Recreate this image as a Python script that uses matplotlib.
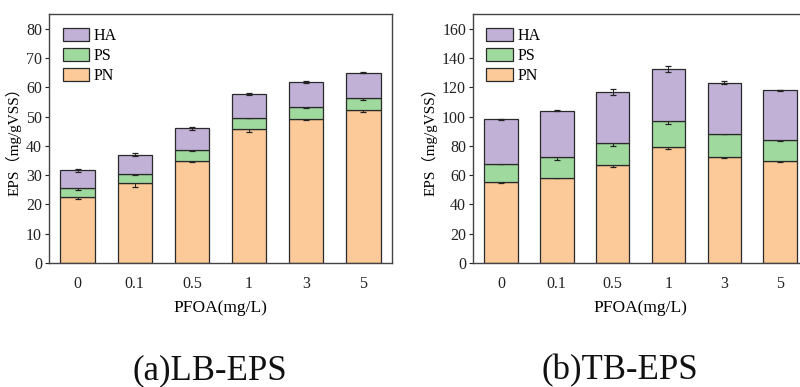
import matplotlib
matplotlib.use("Agg")
import matplotlib.pyplot as plt
import numpy as np

categories = ["0", "0.1", "0.5", "1", "3", "5"]

# (a) LB-EPS
lb_pn = [22.6, 27.2, 34.9, 45.6, 49.1, 52.3]
lb_ps = [2.9, 3.2, 3.7, 4.0, 4.0, 4.1]
lb_ha = [6.2, 6.6, 7.4, 8.0, 8.7, 8.6]
lb_pn_err = [0.9, 1.2, 0.4, 0.8, 0.3, 0.9]
lb_ps_err = [0.6, 0.5, 0.3, 0.2, 0.3, 0.6]
lb_ha_err = [0.5, 0.4, 0.5, 0.3, 0.3, 0.2]

# (b) TB-EPS
tb_pn = [55.3, 58.3, 66.7, 79.2, 72.4, 69.4]
tb_ps = [12.5, 13.8, 15.0, 17.5, 15.9, 14.4]
tb_ha = [30.3, 31.9, 34.8, 35.8, 34.8, 34.1]
tb_pn_err = [0.8, 0.5, 1.0, 1.5, 0.5, 0.6]
tb_ps_err = [0.4, 1.5, 2.0, 1.5, 0.5, 0.4]
tb_ha_err = [0.4, 0.4, 2.0, 1.8, 1.0, 0.5]

c_pn = "#FCC998"
c_ps = "#9FD99E"
c_ha = "#C2B1D7"

serif = ["Liberation Serif", "Noto Sans CJK SC", "DejaVu Sans"]
plt.rcParams["font.family"] = serif
plt.rcParams["axes.unicode_minus"] = False

fig = plt.figure(figsize=(8, 3.87), dpi=100)

def panel(rect, pn, ps, ha, pe, se, he, ymax, yticks):
    ax = fig.add_axes(rect)
    x = np.arange(len(categories))
    pn = np.array(pn); ps = np.array(ps); ha = np.array(ha)
    w = 0.6
    kw = dict(width=w, edgecolor="#2a2a2a", linewidth=0.9)
    ebk = dict(fmt="none", ecolor="#222222", elinewidth=0.7, capsize=2.0, capthick=0.9)
    b1 = ax.bar(x, pn, color=c_pn, zorder=2, **kw)
    ax.errorbar(x, pn, yerr=pe, zorder=2.1, **ebk)
    b2 = ax.bar(x, ps, bottom=pn, color=c_ps, zorder=3, **kw)
    ax.errorbar(x, pn + ps, yerr=se, zorder=3.1, **ebk)
    b3 = ax.bar(x, ha, bottom=pn + ps, color=c_ha, zorder=4, **kw)
    ax.errorbar(x, pn + ps + ha, yerr=he, zorder=4.1, **ebk)
    ax.set_xlim(-0.5, 5.5)
    ax.set_ylim(0, ymax)
    ax.set_yticks(yticks)
    ax.set_xticks(x)
    ax.set_xticklabels(categories)
    ax.tick_params(axis="y", direction="out", length=3, width=0.8, labelsize=11.5,
                   colors="#222222", pad=2)
    ax.tick_params(axis="x", length=0, labelsize=11.5, pad=9, colors="#222222")
    for s in ax.spines.values():
        s.set_color("#444444")
        s.set_linewidth(1.0)
    ax.set_xlabel("PFOA(mg/L)", fontsize=12.5, labelpad=6)
    ax.set_ylabel("EPS（mg/gVSS）", fontsize=11, labelpad=3)
    ax.legend([b3, b2, b1], ["HA", "PS", "PN"], loc="upper left",
              bbox_to_anchor=(0.04, 0.945), frameon=False, fontsize=11.5,
              handlelength=1.65, handleheight=0.85, labelspacing=0.25,
              borderpad=0, borderaxespad=0, handletextpad=0.3)
    return ax

ax1 = panel([49/800, 1-263/387, 343/800, 249/387], lb_pn, lb_ps, lb_ha,
            lb_pn_err, lb_ps_err, lb_ha_err, 85, np.arange(0, 81, 10))
ax2 = panel([473/800, 1-263/387, 335/800, 249/387], tb_pn, tb_ps, tb_ha,
            tb_pn_err, tb_ps_err, tb_ha_err, 170, np.arange(0, 161, 20))

fig.text(210/800, 1-371/387, "(a)LB-EPS", fontsize=25, ha="center", va="center", color="#111111")
fig.text(620/800, 1-371/387, "(b)TB-EPS", fontsize=25, ha="center", va="center", color="#111111")

fig.savefig("out.png", dpi=100)
